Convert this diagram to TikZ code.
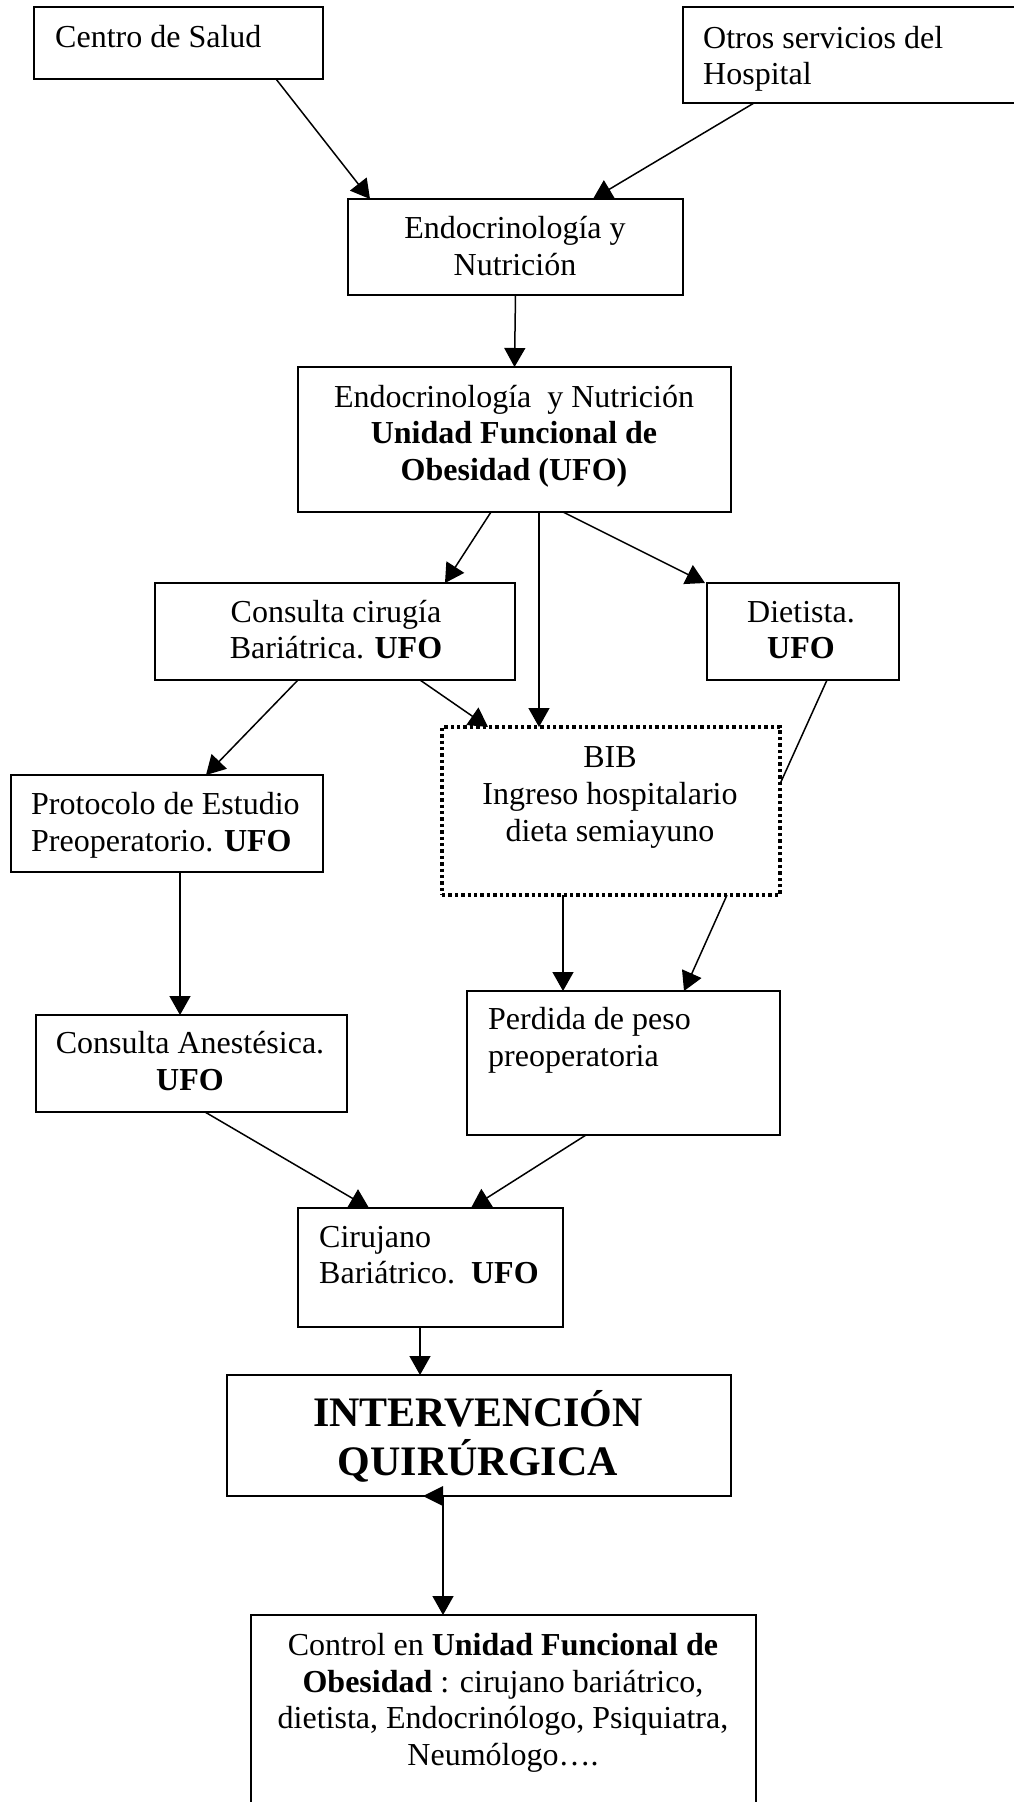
\documentclass[tikz,border=0pt]{standalone}
\usepackage{fontspec}
\setmainfont{Liberation Serif}
\usetikzlibrary{arrows.meta}
\begin{document}
\begin{tikzpicture}[x=1pt,y=1pt,
  box/.style={draw, line width=1.7pt, inner sep=0pt, outer sep=0pt},
  dotbox/.style={draw, line width=3.4pt, dash pattern=on 3.4pt off 3pt, inner sep=0pt, outer sep=0pt},
  txt/.style={font=\fontsize{32}{37}\selectfont, inner sep=0pt, anchor=base},
  txtl/.style={txt, anchor=base west},
  bigtxt/.style={font=\fontsize{42}{49}\selectfont\bfseries, inner sep=0pt, anchor=base},
  conn/.style={line width=1.5pt, -{Triangle[length=19pt,width=21pt]}},
  plainconn/.style={line width=1.5pt}]
\useasboundingbox (0,0) rectangle (1013,-1802);
\fill[white] (0,0) rectangle (1013,-1802);

% boxes
\node[box, minimum width=289pt, minimum height=72pt] (cs) at (178.5,-43) {};
\node[box, minimum width=347pt, minimum height=96pt] (os) at (856.5,-55) {};
\node[box, minimum width=335pt, minimum height=96pt] (en) at (515.5,-247) {};
\node[box, minimum width=433pt, minimum height=145pt] (ufo) at (514.5,-439.5) {};
\node[box, minimum width=360pt, minimum height=97pt] (cc) at (335,-631.5) {};
\node[box, minimum width=192pt, minimum height=97pt] (di) at (803,-631.5) {};
\node[dotbox, minimum width=338pt, minimum height=168pt] (bib) at (611,-811) {};
\node[box, minimum width=312pt, minimum height=97pt] (pr) at (167,-823.5) {};
\node[box, minimum width=311pt, minimum height=97pt] (an) at (191.5,-1063.5) {};
\node[box, minimum width=313pt, minimum height=144pt] (pe) at (623.5,-1063) {};
\node[box, minimum width=265pt, minimum height=119pt] (ci) at (430.5,-1267.5) {};
\node[box, minimum width=504pt, minimum height=121pt] (iq) at (479,-1435.5) {};
\node[box, minimum width=505pt, minimum height=235pt] (co) at (503.5,-1732.5) {};

% texts
\node[txtl] (tcs) at (55,-47) {Centro de Salud};
\node[txtl] (tos1) at (703,-48) {Otros servicios del};
\node[txtl] (tos2) at (703,-84) {Hospital};
\node[txt] (ten1) at (515,-238) {Endocrinología y};
\node[txt] (ten2) at (515,-275) {Nutrición};
\node[txt] (tufo1) at (514,-407) {Endocrinología\ \ y Nutrición};
\node[txt] (tufo2) at (514,-443) {\bfseries Unidad Funcional de};
\node[txt] (tufo3) at (514,-480) {\bfseries Obesidad (UFO)};
\node[txt] (tcc1) at (336,-622) {Consulta cirugía};
\node[txt] (tcc2) at (336,-658) {Bariátrica. \textbf{UFO}};
\node[txt] (tdi1) at (801,-622) {Dietista.};
\node[txt] (tdi2) at (801,-658) {\textbf{UFO}};
\node[txt] (tbib1) at (610,-767) {BIB};
\node[txt] (tbib2) at (610,-804) {Ingreso hospitalario};
\node[txt] (tbib3) at (610,-841) {dieta semiayuno};
\node[txtl] (tpr1) at (31,-814) {Protocolo de Estudio};
\node[txtl] (tpr2) at (31,-851) {Preoperatorio. \textbf{UFO}};
\node[txt] (tan1) at (190,-1053) {Consulta Anestésica.};
\node[txt] (tan2) at (190,-1090) {\textbf{UFO}};
\node[txtl] (tpe1) at (488,-1029) {Perdida de peso};
\node[txtl] (tpe2) at (488,-1066) {preoperatoria};
\node[txtl] (tci1) at (319,-1247) {Cirujano};
\node[txtl] (tci2) at (319,-1283) {Bariátrico.\ \ \textbf{UFO}};
\node[bigtxt] (tiq1) at (478,-1426) {INTERVENCIÓN};
\node[bigtxt] (tiq2) at (478,-1475) {QUIRÚRGICA};
\node[txt] (tco1) at (503,-1655) {Control en \textbf{Unidad Funcional de}};
\node[txt] (tco2) at (503,-1692) {\textbf{Obesidad} : cirujano bariátrico,};
\node[txt] (tco3) at (503,-1728) {dietista, Endocrinólogo, Psiquiatra,};
\node[txt] (tco4) at (503,-1765) {Neumólogo….};

% connectors
\draw[conn] ([xshift=242pt]cs.south west) -- ([xshift=22pt]en.north west);
\draw[conn] ([xshift=71pt]os.south west) -- ([xshift=245pt]en.north west);
\draw[conn] (en.south) -- (ufo.north);
\draw[conn] ([xshift=193pt]ufo.south west) -- ([xshift=290pt]cc.north west);
\draw[conn] ([xshift=241pt]ufo.south west) -- ([xshift=97pt]bib.north west);
\draw[conn] ([xshift=265pt]ufo.south west) -- ([xshift=-2pt]di.north west);
\draw[conn] ([xshift=265pt]cc.south west) -- ([xshift=46pt]bib.north west);
\draw[conn] ([xshift=143pt]cc.south west) -- ([xshift=195pt]pr.north west);
\draw[plainconn] ([xshift=120pt]di.south west) -- ([yshift=-57pt]bib.north east);
\draw[conn] ([xshift=169pt]pr.south west) -- ([xshift=144pt]an.north west);
\draw[conn] ([xshift=121pt]bib.south west) -- ([xshift=96pt]pe.north west);
\draw[conn] ([xshift=285pt]bib.south west) -- ([xshift=217pt]pe.north west);
\draw[conn] ([xshift=169pt]an.south west) -- ([xshift=71pt]ci.north west);
\draw[conn] ([xshift=119pt]pe.south west) -- ([xshift=173pt]ci.north west);
\draw[conn] ([xshift=122pt]ci.south west) -- ([xshift=193pt]iq.north west);
\draw[conn] ([xshift=216pt]iq.south west) -- ([xshift=192pt]co.north west);
\fill ([xshift=196pt]iq.south west) -- ([xshift=216pt,yshift=10pt]iq.south west) -- ([xshift=216pt,yshift=-10pt]iq.south west) -- cycle;
\end{tikzpicture}
\end{document}
